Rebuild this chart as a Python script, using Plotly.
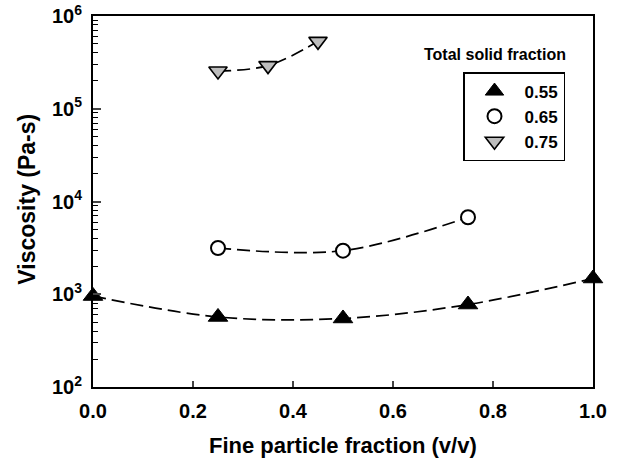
import plotly.graph_objects as go

# Data
x_055 = [0.0, 0.25, 0.5, 0.75, 1.0]
y_055 = [957, 569, 548, 775, 1479]
x_065 = [0.25, 0.5, 0.75]
y_065 = [3150, 2950, 6760]
x_075 = [0.25, 0.35, 0.45]
y_075 = [255000, 292000, 533000]

y_tick_vals = [1e2, 1e3, 1e4, 1e5, 1e6]
y_tick_text = ["<b>10<sup>2</sup></b>", "<b>10<sup>3</sup></b>", "<b>10<sup>4</sup></b>",
               "<b>10<sup>5</sup></b>", "<b>10<sup>6</sup></b>"]
x_tick_vals = [0.0, 0.2, 0.4, 0.6, 0.8, 1.0]
x_tick_text = ["<b>0.0</b>", "<b>0.2</b>", "<b>0.4</b>", "<b>0.6</b>", "<b>0.8</b>", "<b>1.0</b>"]

FONT = "Liberation Sans, Arial, sans-serif"
dash = "13px,6px"

fig = go.Figure()

def add_series(xs, ys, name, marker):
    fig.add_trace(go.Scatter(x=xs, y=ys, mode="lines",
                             line=dict(color="black", width=1.7, dash=dash, shape="spline", smoothing=1.0),
                             showlegend=False, hoverinfo="skip", cliponaxis=False))
    fig.add_trace(go.Scatter(x=xs, y=ys, mode="markers", name=name, marker=marker, cliponaxis=False))

add_series(x_055, y_055, "<b>0.55</b>",
           dict(symbol="triangle-up", size=17, color="black", line=dict(color="black", width=1)))
add_series(x_065, y_065, "<b>0.65</b>",
           dict(symbol="circle", size=14, color="white", line=dict(color="black", width=2)))
add_series(x_075, y_075, "<b>0.75</b>",
           dict(symbol="triangle-down", size=16, color="#bdbdbd", line=dict(color="black", width=1.6)))

minor_vals = [m * 10 ** e for e in range(2, 6) for m in range(2, 10)]

fig.update_layout(
    width=619, height=463,
    margin=dict(l=93, r=26, t=16, b=76, autoexpand=False),
    paper_bgcolor="white", plot_bgcolor="white",
    font=dict(family=FONT, size=16, color="black"),
    xaxis=dict(range=[0, 1], tickvals=x_tick_vals, ticktext=x_tick_text, ticks="inside", ticklen=6, tickwidth=1.5,
               showline=True, linecolor="black", linewidth=2, mirror=True, showgrid=False, zeroline=False,
               automargin=False, ticklabelstandoff=5,
               tickfont=dict(family=FONT, size=20, color="black")),
    yaxis=dict(type="log", range=[2, 6], tickvals=y_tick_vals, ticktext=y_tick_text, ticks="inside", ticklen=8,
               tickwidth=1.5,
               minor=dict(tickvals=minor_vals, ticks="inside", ticklen=5, tickwidth=1, tickcolor="black"),
               showline=True, linecolor="black", linewidth=2, mirror=True, showgrid=False, zeroline=False,
               automargin=False, ticklabelstandoff=5,
               tickfont=dict(family=FONT, size=20, color="black")),
    legend=dict(x=0.74, y=0.849, xanchor="left", yanchor="top", bordercolor="black", borderwidth=1.5,
                bgcolor="white", font=dict(family=FONT, size=17, color="black"), itemsizing="trace",
                itemwidth=50),
    showlegend=True,
    hovermode=False,
)

fig.add_annotation(xref="paper", yref="paper", x=0.804, y=0.895, xanchor="center", yanchor="middle",
                   text="<b>Total solid fraction</b>", showarrow=False,
                   font=dict(family=FONT, size=16, color="black"))
fig.add_annotation(xref="paper", yref="paper", x=0.5, y=-0.159, xanchor="center", yanchor="middle",
                   text="<b>Fine particle fraction (v/v)</b>", showarrow=False,
                   font=dict(family=FONT, size=22, color="black"))
fig.add_annotation(xref="paper", yref="paper", x=-0.132, y=0.505, xanchor="center", yanchor="middle",
                   text="<b>Viscosity (Pa-s)</b>", textangle=-90, showarrow=False,
                   font=dict(family=FONT, size=23, color="black"))

# remove the default 8px page margin so the figure sits at the window's top-left corner
fig.write_html("out.html", config={"displayModeBar": False},
               post_script="document.body.style.margin='0';document.body.style.overflow='hidden';")
